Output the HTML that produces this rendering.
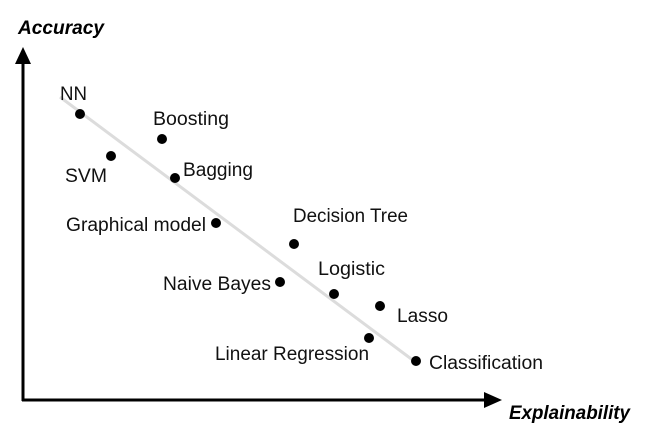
<!DOCTYPE html>
<html><head><meta charset="utf-8"><style>html,body{margin:0;padding:0;background:#fff}svg{display:block}</style></head>
<body>
<svg width="650" height="433" viewBox="0 0 650 433" xmlns="http://www.w3.org/2000/svg" font-family="Liberation Sans, sans-serif">
<rect width="650" height="433" fill="#fff"/>
<line x1="60" y1="97" x2="414" y2="361" stroke="#dcdcdc" stroke-width="3"/>
<line x1="23" y1="401" x2="23" y2="62" stroke="#000" stroke-width="3"/>
<polygon points="23,47 15,64 31,64" fill="#000"/>
<line x1="22" y1="400" x2="486" y2="400" stroke="#000" stroke-width="3"/>
<polygon points="502,400 484,392 484,408" fill="#000"/>
<g fill="#000">
<circle cx="80" cy="114" r="5"/><circle cx="162" cy="139" r="5"/><circle cx="111" cy="156" r="5"/>
<circle cx="175" cy="178" r="5"/><circle cx="216" cy="223" r="5"/><circle cx="294" cy="244" r="5"/>
<circle cx="280" cy="282" r="5"/><circle cx="334" cy="294" r="5"/><circle cx="380" cy="306" r="5"/>
<circle cx="369" cy="338" r="5"/><circle cx="416" cy="361" r="5"/>
</g>
<g font-size="19" fill="#111" lengthAdjust="spacingAndGlyphs">
<text x="60" y="100" textLength="27" lengthAdjust="spacingAndGlyphs">NN</text>
<text x="153" y="125" textLength="76" lengthAdjust="spacingAndGlyphs">Boosting</text>
<text x="65" y="182" textLength="42" lengthAdjust="spacingAndGlyphs">SVM</text>
<text x="183" y="176" textLength="70" lengthAdjust="spacingAndGlyphs">Bagging</text>
<text x="66" y="231" textLength="140" lengthAdjust="spacingAndGlyphs">Graphical model</text>
<text x="293" y="222" textLength="115" lengthAdjust="spacingAndGlyphs">Decision Tree</text>
<text x="163" y="290" textLength="108" lengthAdjust="spacingAndGlyphs">Naive Bayes</text>
<text x="318" y="275" textLength="67" lengthAdjust="spacingAndGlyphs">Logistic</text>
<text x="397" y="322" textLength="51" lengthAdjust="spacingAndGlyphs">Lasso</text>
<text x="215" y="360" textLength="154" lengthAdjust="spacingAndGlyphs">Linear Regression</text>
<text x="429" y="369" textLength="114" lengthAdjust="spacingAndGlyphs">Classification</text>
</g>
<text x="18" y="34" font-size="19" font-weight="bold" font-style="italic" textLength="86" lengthAdjust="spacingAndGlyphs">Accuracy</text>
<text x="509" y="419" font-size="19" font-weight="bold" font-style="italic" textLength="121" lengthAdjust="spacingAndGlyphs">Explainability</text>
</svg>
</body></html>
